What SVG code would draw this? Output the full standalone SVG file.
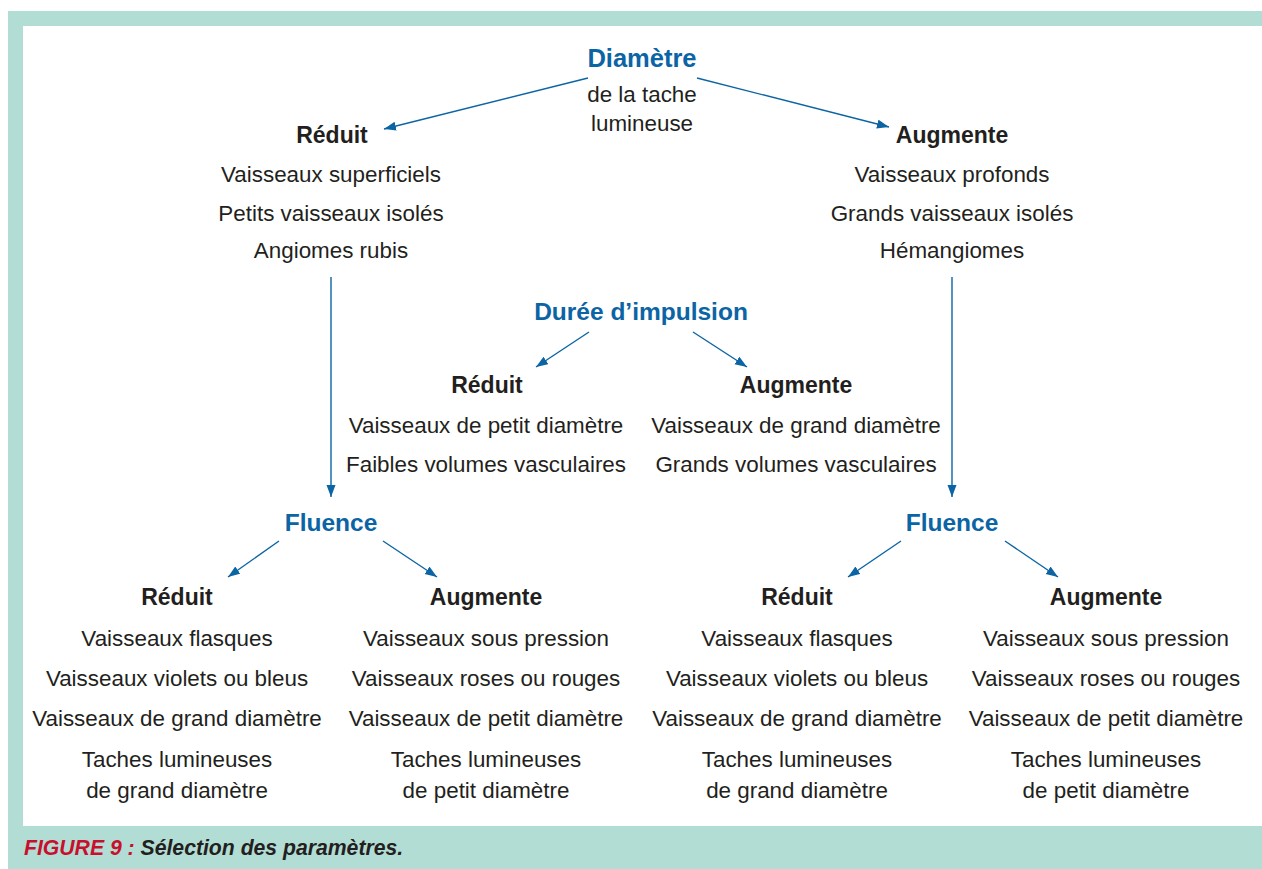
<svg xmlns="http://www.w3.org/2000/svg" width="1262" height="869" viewBox="0 0 1262 869">
<defs>
<style>
.t{font-family:"Liberation Sans",Arial,sans-serif;font-size:22.4px;fill:#231f20;text-anchor:middle}
.h{font-family:"Liberation Sans",Arial,sans-serif;font-size:23px;font-weight:bold;fill:#231f20;text-anchor:middle}
.b{font-family:"Liberation Sans",Arial,sans-serif;font-size:24.5px;font-weight:bold;fill:#0b64a4;text-anchor:middle}
.c{font-family:"Liberation Sans",Arial,sans-serif;font-size:21.2px;font-weight:bold;font-style:italic}
.e{stroke:#0b64a4;stroke-width:1.4;fill:none;marker-end:url(#ah)}
</style>
<marker id="ah" markerUnits="userSpaceOnUse" markerWidth="12" markerHeight="10" refX="12" refY="4.5" orient="auto">
<path d="M0,0 L12,4.5 L0,9 Z" fill="#0b64a4"/>
</marker>
</defs>
<rect x="0" y="0" width="1262" height="869" fill="#ffffff"/>
<rect x="8" y="11" width="1254" height="858" fill="#b2ddd4"/>
<rect x="23" y="26" width="1239" height="800" fill="#ffffff"/>

<g id="connectors">
<line class="e" x1="588" y1="78" x2="384" y2="129"/>
<line class="e" x1="697" y1="78" x2="889" y2="127"/>
<line class="e" x1="331" y1="277" x2="331" y2="497"/>
<line class="e" x1="952" y1="277" x2="952" y2="497"/>
<line class="e" x1="589" y1="332" x2="536" y2="367"/>
<line class="e" x1="693" y1="332" x2="747" y2="367"/>
<line class="e" x1="279" y1="541" x2="228" y2="577"/>
<line class="e" x1="383" y1="541" x2="437" y2="577"/>
<line class="e" x1="901" y1="541" x2="848" y2="577"/>
<line class="e" x1="1005" y1="541" x2="1058" y2="577"/>
</g>

<g id="diametre">
<text class="b" x="642" y="67" style="font-size:25.5px">Diamètre</text>
<text class="t" x="642" y="102">de la tache</text>
<text class="t" x="642" y="131">lumineuse</text>
</g>

<g id="reduit-top">
<text class="h" x="332" y="143">Réduit</text>
<text class="t" x="331" y="182">Vaisseaux superficiels</text>
<text class="t" x="331" y="221">Petits vaisseaux isolés</text>
<text class="t" x="331" y="258">Angiomes rubis</text>
</g>

<g id="augmente-top">
<text class="h" x="952" y="143">Augmente</text>
<text class="t" x="952" y="182">Vaisseaux profonds</text>
<text class="t" x="952" y="221">Grands vaisseaux isolés</text>
<text class="t" x="952" y="258">Hémangiomes</text>
</g>

<g id="duree">
<text class="b" x="641" y="320">Durée d’impulsion</text>
</g>

<g id="reduit-duree">
<text class="h" x="487" y="393">Réduit</text>
<text class="t" x="486" y="433">Vaisseaux de petit diamètre</text>
<text class="t" x="486" y="472">Faibles volumes vasculaires</text>
</g>

<g id="augmente-duree">
<text class="h" x="796" y="393">Augmente</text>
<text class="t" x="796" y="433">Vaisseaux de grand diamètre</text>
<text class="t" x="796" y="472">Grands volumes vasculaires</text>
</g>

<g id="fluence-left">
<text class="b" x="331" y="531">Fluence</text>
</g>

<g id="fluence-right">
<text class="b" x="952" y="531">Fluence</text>
</g>

<g id="reduit-fl1">
<text class="h" x="177" y="605">Réduit</text>
<text class="t" x="177" y="646">Vaisseaux flasques</text>
<text class="t" x="177" y="686">Vaisseaux violets ou bleus</text>
<text class="t" x="177" y="726">Vaisseaux de grand diamètre</text>
<text class="t" x="177" y="767">Taches lumineuses</text>
<text class="t" x="177" y="798">de grand diamètre</text>
</g>

<g id="augmente-fl1">
<text class="h" x="486" y="605">Augmente</text>
<text class="t" x="486" y="646">Vaisseaux sous pression</text>
<text class="t" x="486" y="686">Vaisseaux roses ou rouges</text>
<text class="t" x="486" y="726">Vaisseaux de petit diamètre</text>
<text class="t" x="486" y="767">Taches lumineuses</text>
<text class="t" x="486" y="798">de petit diamètre</text>
</g>

<g id="reduit-fl2">
<text class="h" x="797" y="605">Réduit</text>
<text class="t" x="797" y="646">Vaisseaux flasques</text>
<text class="t" x="797" y="686">Vaisseaux violets ou bleus</text>
<text class="t" x="797" y="726">Vaisseaux de grand diamètre</text>
<text class="t" x="797" y="767">Taches lumineuses</text>
<text class="t" x="797" y="798">de grand diamètre</text>
</g>

<g id="augmente-fl2">
<text class="h" x="1106" y="605">Augmente</text>
<text class="t" x="1106" y="646">Vaisseaux sous pression</text>
<text class="t" x="1106" y="686">Vaisseaux roses ou rouges</text>
<text class="t" x="1106" y="726">Vaisseaux de petit diamètre</text>
<text class="t" x="1106" y="767">Taches lumineuses</text>
<text class="t" x="1106" y="798">de petit diamètre</text>
</g>

<g id="caption">
<text class="c" x="24" y="855"><tspan fill="#c8102e">FIGURE 9 : </tspan><tspan fill="#231f20">Sélection des paramètres.</tspan></text>
</g>
</svg>
